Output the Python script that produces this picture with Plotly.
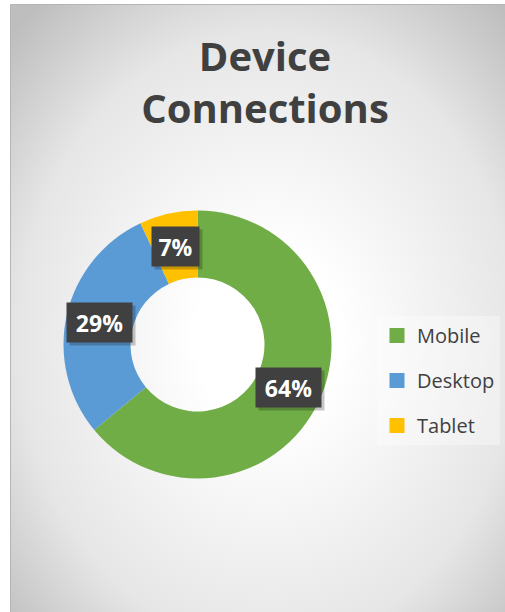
import base64
import math
import plotly.graph_objects as go

# ---- data ----
labels = ["Mobile", "Desktop", "Tablet"]
values = [64, 29, 7]
colors = ["#70AD47", "#5B9BD5", "#FFC000"]
title_text = "Device<br>Connections"

# ---- layout geometry (px) ----
W, H = 505, 612
CX, CY, R = 197.5, 344.5, 134
HOLE = 0.5
dom_x = [(CX - R) / W, (CX + R) / W]
dom_y = [1 - (CY + R) / H, 1 - (CY - R) / H]

# chart area (Excel-like box) inside the page
AX0, AY0 = 11, 5

svg = f"""<svg xmlns='http://www.w3.org/2000/svg' width='{W-AX0}' height='{H-AY0}' preserveAspectRatio='none'>
<defs><radialGradient id='g' gradientUnits='objectBoundingBox' cx='0.52' cy='0.55' r='0.72'>
<stop offset='0' stop-color='#ffffff'/>
<stop offset='0.2' stop-color='#ffffff'/>
<stop offset='0.7' stop-color='#e6e6e6'/>
<stop offset='1' stop-color='#bebebe'/>
</radialGradient></defs>
<rect x='0' y='0' width='{W-AX0}' height='{H-AY0}' fill='url(#g)'/>
</svg>"""
svg_uri = "data:image/svg+xml;base64," + base64.b64encode(svg.encode()).decode()

fig = go.Figure()
fig.add_trace(go.Pie(
    labels=labels, values=values, hole=HOLE, sort=False,
    direction="clockwise", rotation=0, textinfo="none",
    marker=dict(colors=colors, line=dict(width=0)),
    hoverinfo="label+percent", showlegend=False,
    domain=dict(x=dom_x, y=dom_y),
))

# legend entries (separate so the item spacing can match)
for lab, col in zip(labels, colors):
    fig.add_trace(go.Scatter(
        x=[None], y=[None], mode="markers", name=lab, legendgroup=lab,
        marker=dict(symbol="square", size=15, color=col),
        hoverinfo="skip", showlegend=True,
    ))

# data labels in dark boxes, placed at the ring's mid radius
total = sum(values)
r_mid = R * (1 + HOLE) / 2
annotations = []
cum = 0
for v in values:
    ang = (cum + v / 2) / total * 2 * math.pi
    cum += v
    px = CX + r_mid * math.sin(ang)
    py = CY - r_mid * math.cos(ang)
    txt = f"{round(100 * v / total)}%"
    nd = len(txt) - 1
    bw = 19 + 18 * nd
    common = dict(x=px / W, y=1 - py / H, xref="paper", yref="paper",
                  xanchor="center", yanchor="middle",
                  showarrow=False, width=bw, height=29, borderpad=5,
                  align="center", valign="middle")
    # soft drop shadow behind the label box
    annotations.append(dict(text=" ", bgcolor="rgba(0,0,0,0.22)",
                            font=dict(size=23, family="Open Sans"),
                            xshift=3, yshift=-3, **common))
    annotations.append(dict(text=f"<b>{txt}</b>", bgcolor="#404040",
                            font=dict(color="#ffffff", size=23, family="Open Sans"),
                            **common))

fig.update_layout(
    width=W, height=H,
    margin=dict(l=0, r=0, t=0, b=0),
    paper_bgcolor="#ffffff", plot_bgcolor="rgba(0,0,0,0)",
    xaxis=dict(visible=False), yaxis=dict(visible=False),
    title=dict(text=f"<b>{title_text}</b>", x=265 / W, xanchor="center",
               y=1 - 71 / H, yanchor="top", yref="container",
               font=dict(family="Open Sans", size=40, color="#404040")),
    legend=dict(x=377 / W, y=1 - 316 / H, xanchor="left", yanchor="top",
                bgcolor="rgba(255,255,255,0.35)", borderwidth=0,
                font=dict(family="Open Sans", size=20, color="#404040"),
                tracegroupgap=16),
    images=[dict(source=svg_uri, xref="paper", yref="paper",
                 x=AX0 / W, y=1 - AY0 / H, sizex=(W - AX0) / W, sizey=(H - AY0) / H,
                 xanchor="left", yanchor="top", sizing="stretch", layer="below")],
    shapes=[dict(type="rect", xref="paper", yref="paper",
                 x0=(AX0 - 0.5) / W, y0=-0.01, x1=1.01, y1=1 - (AY0 - 0.5) / H,
                 line=dict(color="#b5b5b5", width=1), layer="below")],
    annotations=annotations,
    showlegend=True,
)

fig.write_html("out.html",
               config={"displayModeBar": False},
               post_script="document.body.style.margin='0';document.body.style.overflow='hidden';")
